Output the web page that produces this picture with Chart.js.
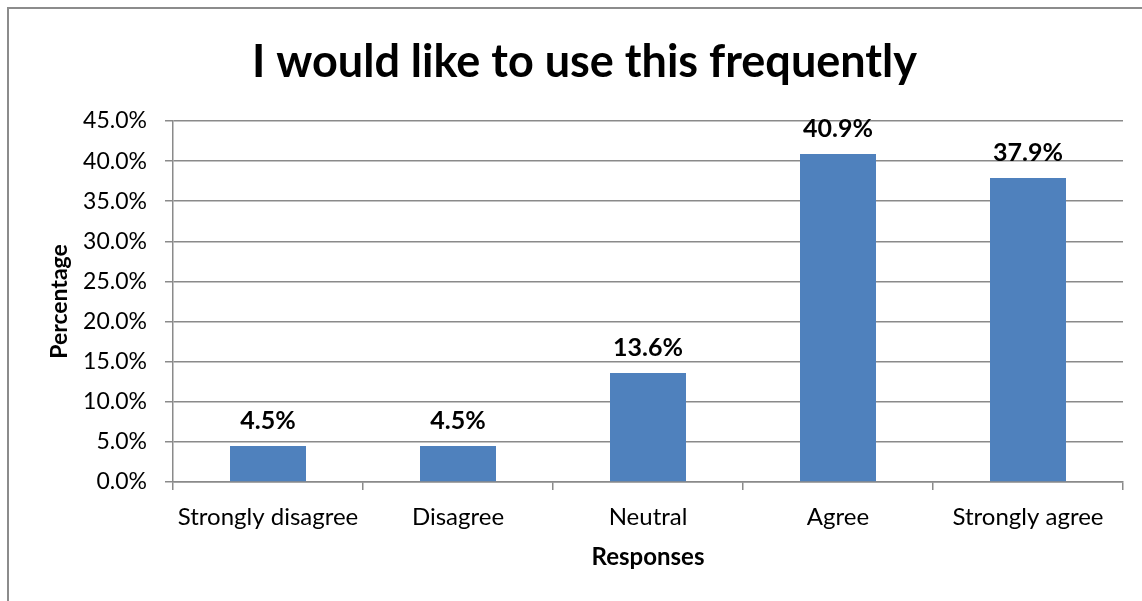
<!DOCTYPE html>
<html>
<head>
<meta charset="utf-8">
<script src="https://cdn.jsdelivr.net/npm/chart.js@4.4.1/dist/chart.umd.min.js"></script>
<style>
  html, body { margin: 0; padding: 0; background: #fff; overflow: hidden; }
  #frame {
    position: absolute; left: 7px; top: 7px; width: 1300px; height: 700px;
    border: 2px solid #8c8c8c; box-sizing: border-box;
  }
  #wrap { position: absolute; left: 0; top: 0; width: 1142px; height: 601px; }
</style>
</head>
<body>
<div id="frame"></div>
<div id="wrap"><canvas id="chart"></canvas></div>
<script>
// Respuestas de la encuesta (porcentaje)
const categories = ['Strongly disagree', 'Disagree', 'Neutral', 'Agree', 'Strongly agree'];
const percentages = [4.5, 4.5, 13.6, 40.9, 37.9];
const yTicks = [0, 5, 10, 15, 20, 25, 30, 35, 40, 45];

const chartTitle = 'I would like to use this frequently';
const xTitle = 'Responses';
const yTitle = 'Percentage';

const FONT = 'Lato, "Open Sans", sans-serif';
const gridGray = '#8a8a8a';

// Etiqueta en negrita encima de cada barra
const barLabels = {
  id: 'barLabels',
  afterDatasetsDraw(chart) {
    const ctx = chart.ctx;
    const meta = chart.getDatasetMeta(0);
    ctx.save();
    ctx.font = 'bold 25px ' + FONT;
    ctx.fillStyle = '#000';
    ctx.textAlign = 'center';
    ctx.textBaseline = 'middle';
    meta.data.forEach((bar, i) => {
      ctx.fillText(percentages[i].toFixed(1) + '%', bar.x, bar.y - 25);
    });
    ctx.restore();
  }
};

const ctx = document.getElementById('chart').getContext('2d');

new Chart(ctx, {
  type: 'bar',
  data: {
    labels: categories,
    datasets: [{
      data: percentages,
      backgroundColor: '#4f81bd',
      barPercentage: 0.4,
      categoryPercentage: 1.0
    }]
  },
  options: {
    responsive: true,
    maintainAspectRatio: false,
    animation: false,
    layout: { padding: { left: 46, right: 19, top: 0, bottom: 22 } },
    plugins: {
      legend: { display: false },
      tooltip: { enabled: false },
      title: {
        display: true,
        text: chartTitle,
        color: '#000',
        font: { family: FONT, size: 45, weight: 'bold' },
        padding: { top: 35, bottom: 32 }
      }
    },
    scales: {
      x: {
        grid: {
          offset: true,
          drawOnChartArea: false,
          drawTicks: true,
          tickLength: 8,
          color: gridGray,
          lineWidth: 1.5
        },
        border: { color: gridGray, width: 1.5 },
        ticks: {
          color: '#000',
          font: { family: FONT, size: 24 },
          padding: 13,
          maxRotation: 0
        },
        title: {
          display: true,
          text: xTitle,
          color: '#000',
          font: { family: FONT, size: 24, weight: 'bold' },
          padding: { top: 4, bottom: 7 }
        },
        afterFit(scale) { scale.height = 97; }
      },
      y: {
        min: 0,
        max: 45,
        afterBuildTicks(scale) {
          scale.ticks = yTicks.map(v => ({ value: v }));
        },
        grid: {
          color: gridGray,
          lineWidth: 1.5,
          tickLength: 8
        },
        border: { color: gridGray, width: 1.5 },
        ticks: {
          color: '#000',
          font: { family: FONT, size: 23 },
          padding: 18,
          callback: v => v.toFixed(1) + '%'
        },
        title: {
          display: true,
          text: yTitle,
          color: '#000',
          font: { family: FONT, size: 23, weight: 'bold' },
          padding: { top: 0, bottom: 6 }
        },
        afterFit(scale) { scale.width = 127; }
      }
    }
  },
  plugins: [barLabels]
});
</script>
</body>
</html>
